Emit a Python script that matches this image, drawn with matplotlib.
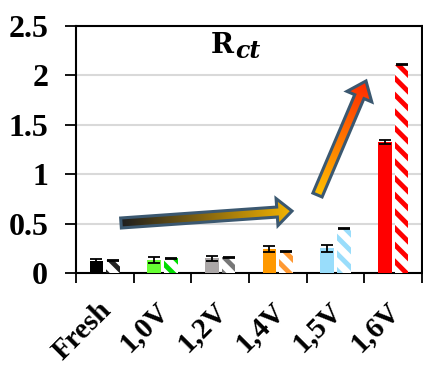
import numpy as np
import matplotlib
matplotlib.use('Agg')
import matplotlib.pyplot as plt
from matplotlib.patches import Polygon
from matplotlib.colors import LinearSegmentedColormap

categories = ['Fresh', '1,0V', '1,2V', '1,4V', '1,5V', '1,6V']
solid_vals = [0.12, 0.13, 0.15, 0.24, 0.25, 1.33]
solid_err = [0.02, 0.03, 0.025, 0.03, 0.035, 0.02]
hatch_vals = [0.13, 0.15, 0.16, 0.215, 0.45, 2.11]
hatch_err = [0.004, 0.004, 0.004, 0.004, 0.004, 0.004]
solid_colors = ['#000000', '#66ff33', '#aaa6a6', '#ff9900', '#99ddfb', '#ff0000']
hatch_colors = ['#222222', '#00dd00', '#777777', '#ff9933', '#99ddfb', '#ff0000']
yticks = [0, 0.5, 1, 1.5, 2, 2.5]
ytick_labels = ['0', '0.5', '1', '1.5', '2', '2.5']

W, H = 423, 368
plt.rcParams['hatch.linewidth'] = 3.5
plt.rcParams['font.family'] = ['Liberation Serif']
plt.rcParams['font.weight'] = 'bold'
fig = plt.figure(figsize=(W / 100, H / 100), dpi=100)
ax = fig.add_axes([76 / W, (H - 273) / H, 346 / W, 247 / H])

x = np.arange(len(categories))
bw = 0.24
ax.bar(x - 0.145, solid_vals, bw, color=solid_colors, zorder=3,
       yerr=solid_err, error_kw=dict(ecolor='black', elinewidth=1.3, capsize=4.5, capthick=1.3))
ax.bar(x + 0.145, hatch_vals, bw, color='white', edgecolor=hatch_colors, linewidth=0,
       hatch='\\\\', zorder=3,
       yerr=hatch_err, error_kw=dict(ecolor='black', elinewidth=1.3, capsize=4.5, capthick=1.3))

ax.set_xlim(-0.5, len(categories) - 0.5)
ax.set_ylim(0, 2.5)
ax.set_yticks(yticks, ytick_labels, fontsize=23, fontweight='bold')
ax.yaxis.grid(True, color='#d9d9d9', linewidth=1.5, zorder=0)
ax.set_axisbelow(True)

ax.set_xticks(np.arange(len(categories) + 1) - 0.5, [''] * (len(categories) + 1))
ax.set_xticks(x - 0.12, categories, minor=True, rotation=45, ha='right', va='top',
              rotation_mode='anchor', fontsize=21, fontweight='bold')
ax.tick_params(axis='x', which='minor', length=0, pad=17)
ax.tick_params(axis='x', which='major', length=7.5, width=1.3, direction='out')
ax.tick_params(axis='y', length=8, width=1.3, direction='out', pad=12)
for sp in ax.spines.values():
    sp.set_linewidth(1.5)
    sp.set_color('black')

# overlay in pixel coordinates for title and arrows
ov = fig.add_axes([0, 0, 1, 1])
ov.set_xlim(0, W)
ov.set_ylim(H, 0)
ov.axis('off')
ov.patch.set_alpha(0)

ov.text(234, 53, 'R', fontfamily='DejaVu Serif', fontweight='bold', fontsize=20,
        ha='right', va='baseline')
ov.text(235, 58, 'ct', fontfamily='DejaVu Serif', fontweight='bold', style='italic',
        fontsize=17, ha='left', va='baseline')


def grad_arrow(tail, tip, shaft_w, head_w, head_l, c0, c1):
    tail = np.array(tail, float)
    tip = np.array(tip, float)
    d = tip - tail
    L = np.hypot(*d)
    u = d / L
    n = np.array([-u[1], u[0]])
    base = tip - u * head_l
    pts = [tail + n * shaft_w / 2, base + n * shaft_w / 2, base + n * head_w / 2, tip,
           base - n * head_w / 2, base - n * shaft_w / 2, tail - n * shaft_w / 2]
    poly = Polygon(pts, closed=True, facecolor='none', edgecolor='#3b5870',
                   linewidth=2.2, joinstyle='miter', zorder=5)
    ov.add_patch(poly)
    pts = np.array(pts)
    x0, x1 = pts[:, 0].min() - 2, pts[:, 0].max() + 2
    y0, y1 = pts[:, 1].min() - 2, pts[:, 1].max() + 2
    gx, gy = np.meshgrid(np.linspace(x0, x1, 200), np.linspace(y0, y1, 200))
    t = ((gx - tail[0]) * u[0] + (gy - tail[1]) * u[1]) / L
    cmap = LinearSegmentedColormap.from_list('g', [c0, c1])
    im = ov.imshow(np.clip(t, 0, 1), cmap=cmap, extent=(x0, x1, y1, y0),
                   origin='upper', vmin=0, vmax=1, zorder=4, aspect='auto')
    im.set_clip_path(poly)


grad_arrow((121, 223), (292, 211), 10, 27, 15, '#1e1e1e', '#f5b400')
grad_arrow((317.5, 195), (366, 81), 10, 27, 17, '#ffc000', '#ff2a00')
ov.set_xlim(0, W)
ov.set_ylim(H, 0)

fig.savefig('out.png', dpi=100)
